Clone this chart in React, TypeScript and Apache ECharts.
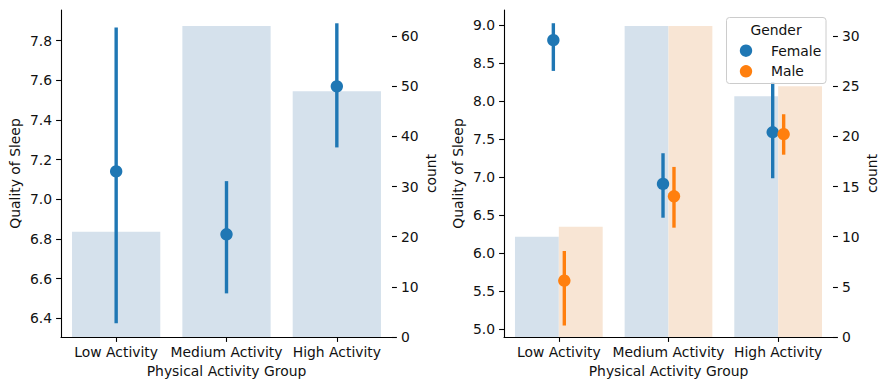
import React, { useEffect, useRef } from "react";
import * as echarts from "echarts";

const categories = ["Low Activity", "Medium Activity", "High Activity"];

// Left panel: overall
const overallCount = [21, 62, 49];
const overallMean = [7.141, 6.824, 7.57];
const overallLow = [6.375, 6.526, 7.262];
const overallHigh = [7.867, 7.092, 7.888];

// Right panel: by gender
const femaleCount = [10, 31, 24];
const maleCount = [11, 31, 25];
const femaleMean = [8.803, 6.912, 7.592];
const femaleLow = [8.399, 6.468, 6.987];
const femaleHigh = [9.026, 7.316, 8.25];
const maleMean = [5.639, 6.75, 7.566];
const maleLow = [5.05, 6.337, 7.297];
const maleHigh = [6.03, 7.136, 7.829];

const leftTicks = [6.4, 6.6, 6.8, 7.0, 7.2, 7.4, 7.6, 7.8];
const rightTicks = [5.0, 5.5, 6.0, 6.5, 7.0, 7.5, 8.0, 8.5, 9.0];
const leftCountTicks = [0, 10, 20, 30, 40, 50, 60];
const rightCountTicks = [0, 5, 10, 15, 20, 25, 30];

const BLUE = "#1f77b4";
const ORANGE = "#ff7f0e";
const BLUE_BAR = "#d5e1ec";
const ORANGE_BAR = "#f8e5d4";
const FONT = "DejaVu Sans";
const FS = 13.9;

function pointRows(mean: number[], lo: number[], hi: number[]) {
  return mean.map((m, i) => [i, m, lo[i], hi[i]]);
}

function makeRender(color: string, offset: number) {
  return (params: any, api: any) => {
    const x = api.value(0);
    const bw = api.size([1, 0])[0];
    const dx = offset * bw;
    const c = api.coord([x, api.value(1)]);
    const lo = api.coord([x, api.value(2)]);
    const hi = api.coord([x, api.value(3)]);
    return {
      type: "group",
      children: [
        {
          type: "line",
          shape: { x1: c[0] + dx, y1: lo[1], x2: c[0] + dx, y2: hi[1] },
          style: { stroke: color, lineWidth: 3.4 },
        },
        {
          type: "circle",
          shape: { cx: c[0] + dx, cy: c[1], r: 6.2 },
          style: { fill: color },
        },
      ],
    };
  };
}

const axisText = { fontFamily: FONT, fontSize: FS, color: "#111" };

function leftValueAxis(gridIndex: number, min: number, max: number, ticks: number[]) {
  return {
    type: "value",
    gridIndex,
    position: "left",
    min,
    max,
    name: "Quality of Sleep",
    nameLocation: "middle",
    nameGap: 39,
    nameTextStyle: axisText,
    axisLine: { show: true, lineStyle: { color: "#000", width: 1.1 } },
    axisTick: { show: true, length: 4.9, customValues: ticks, lineStyle: { color: "#000", width: 1.1 } },
    axisLabel: {
      ...axisText,
      margin: 9,
      customValues: ticks,
      formatter: (v: number) => v.toFixed(1),
    },
    splitLine: { show: false },
  };
}

function rightCountAxis(gridIndex: number, max: number, ticks: number[]) {
  return {
    type: "value",
    gridIndex,
    position: "right",
    min: 0,
    max,
    name: "count",
    nameLocation: "middle",
    nameGap: 32,
    nameTextStyle: axisText,
    axisLine: { show: false },
    axisTick: { show: true, length: 4.9, customValues: ticks, lineStyle: { color: "#000", width: 1.1 } },
    axisLabel: { ...axisText, margin: 9, customValues: ticks },
    splitLine: { show: false },
  };
}

function catAxis(gridIndex: number) {
  return {
    type: "category",
    gridIndex,
    data: categories,
    name: "Physical Activity Group",
    nameLocation: "middle",
    nameGap: 27,
    nameTextStyle: axisText,
    axisLine: { show: true, lineStyle: { color: "#000", width: 1.1 } },
    axisTick: { show: true, alignWithLabel: true, length: 4.9, lineStyle: { color: "#000", width: 1.1 } },
    axisLabel: { ...axisText, margin: 8, interval: 0 },
    splitLine: { show: false },
  };
}

export default function App() {
  const ref = useRef<HTMLDivElement>(null);
  useEffect(() => {
    if (!ref.current) return;
    const chart = echarts.init(ref.current, undefined, { renderer: "svg" });
    chart.setOption({
      animation: false,
      backgroundColor: "#fff",
      grid: [
        { left: 61, right: 497, top: 10, bottom: 53 },
        { left: 504, right: 56, top: 10, bottom: 53 },
      ],
      xAxis: [catAxis(0), catAxis(1)],
      yAxis: [
        leftValueAxis(0, 6.306, 7.955, leftTicks),
        rightCountAxis(0, 65.2, leftCountTicks),
        leftValueAxis(1, 4.899, 9.2, rightTicks),
        rightCountAxis(1, 32.6, rightCountTicks),
      ],
      legend: {
        orient: "vertical",
        left: 739.8,
        top: 42.7,
        padding: 0,
        itemWidth: 12.4,
        itemHeight: 12.4,
        itemGap: 4.6,
        z: 6,
        formatter: "{p|{name}}",
        textStyle: {
          fontFamily: FONT,
          fontSize: FS,
          color: "#111",
          lineHeight: 16,
          rich: {
            p: { fontFamily: FONT, fontSize: FS, color: "#111", lineHeight: 16, padding: [0, 0, 0, 13.8] },
          },
        },
        data: [
          { name: "Female", icon: "circle", itemStyle: { color: BLUE } },
          { name: "Male", icon: "circle", itemStyle: { color: ORANGE } },
        ],
      },
      graphic: [
        {
          type: "rect",
          z: 5,
          shape: { x: 726.5, y: 17.5, width: 99.5, height: 66, r: 3 },
          style: { fill: "rgba(255,255,255,0.8)", stroke: "#cccccc", lineWidth: 1 },
        },
        {
          type: "text",
          z: 6,
          x: 776,
          y: 29.5,
          style: {
            text: "Gender",
            fontFamily: FONT,
            fontSize: FS,
            fill: "#111",
            align: "center",
            verticalAlign: "middle",
          },
        },
      ],
      series: [
        {
          type: "bar",
          name: "count",
          xAxisIndex: 0,
          yAxisIndex: 1,
          data: overallCount,
          barCategoryGap: "20%",
          itemStyle: { color: BLUE_BAR },
          z: 1,
        },
        {
          type: "custom",
          name: "Quality of Sleep",
          xAxisIndex: 0,
          yAxisIndex: 0,
          data: pointRows(overallMean, overallLow, overallHigh),
          encode: { x: 0, y: [1, 2, 3] },
          renderItem: makeRender(BLUE, 0),
          itemStyle: { color: BLUE },
          z: 3,
        },
        {
          type: "bar",
          name: "Female count",
          xAxisIndex: 1,
          yAxisIndex: 3,
          data: femaleCount,
          barCategoryGap: "20%",
          barGap: "0%",
          itemStyle: { color: BLUE_BAR },
          z: 1,
        },
        {
          type: "bar",
          name: "Male count",
          xAxisIndex: 1,
          yAxisIndex: 3,
          data: maleCount,
          barCategoryGap: "20%",
          barGap: "0%",
          itemStyle: { color: ORANGE_BAR },
          z: 1,
        },
        {
          type: "custom",
          name: "Female",
          xAxisIndex: 1,
          yAxisIndex: 2,
          data: pointRows(femaleMean, femaleLow, femaleHigh),
          encode: { x: 0, y: [1, 2, 3] },
          renderItem: makeRender(BLUE, -0.05),
          itemStyle: { color: BLUE },
          z: 3,
        },
        {
          type: "custom",
          name: "Male",
          xAxisIndex: 1,
          yAxisIndex: 2,
          data: pointRows(maleMean, maleLow, maleHigh),
          encode: { x: 0, y: [1, 2, 3] },
          renderItem: makeRender(ORANGE, 0.05),
          itemStyle: { color: ORANGE },
          z: 3,
        },
      ],
    });
    return () => chart.dispose();
  }, []);
  return (
    <div
      ref={ref}
      style={{ position: "fixed", left: 0, top: 0, width: 889, height: 390, background: "#fff" }}
    />
  );
}
